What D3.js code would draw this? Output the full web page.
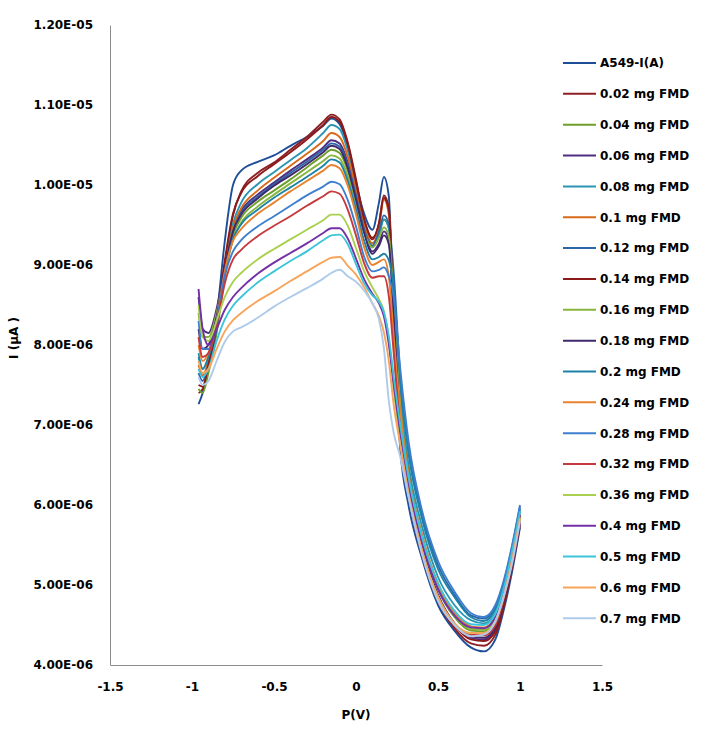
<!DOCTYPE html>
<html>
<head>
<meta charset="utf-8">
<script src="https://cdn.jsdelivr.net/npm/d3@7"></script>
<style>
  body { margin: 0; background: #fff; }
  svg { display: block; }
  text { font-family: "DejaVu Sans", sans-serif; font-weight: bold; font-size: 12px; fill: #000; }
</style>
</head>
<body>
<svg id="chart" width="704" height="733"></svg>
<script>
// potential sweep (V), shared by all series
const voltage = [-0.96, -0.935, -0.9, -0.85, -0.8, -0.75, -0.7, -0.6, -0.5, -0.4, -0.3, -0.2, -0.15, -0.1, -0.05, 0,
  0.05, 0.1, 0.14, 0.17, 0.2, 0.23, 0.27, 0.32, 0.4, 0.5, 0.6, 0.7, 0.78, 0.85, 0.9, 0.95, 1.0];

// current, in units of 1E-06 A
const a549 = [7.26, 7.40, 7.72, 8.34, 9.30, 10.00, 10.18, 10.29, 10.37, 10.49, 10.60, 10.74, 10.83, 10.76, 10.48, 10.02, 9.64, 9.44, 9.78, 10.10, 9.86, 8.20, 6.70, 6.00, 5.35, 4.75, 4.43, 4.22, 4.17, 4.32, 4.68, 5.15, 5.72];
const fmd002 = [7.40, 7.45, 7.70, 8.20, 9.00, 9.62, 9.92, 10.15, 10.28, 10.44, 10.60, 10.79, 10.88, 10.82, 10.53, 10.07, 9.57, 9.32, 9.52, 9.87, 9.72, 8.30, 6.90, 6.15, 5.40, 4.80, 4.46, 4.27, 4.24, 4.38, 4.72, 5.20, 5.75];
const fmd004 = [7.45, 7.40, 7.65, 8.15, 8.85, 9.37, 9.59, 9.79, 9.93, 10.07, 10.22, 10.37, 10.44, 10.40, 10.18, 9.82, 9.44, 9.27, 9.40, 9.57, 9.46, 8.50, 7.15, 6.30, 5.55, 4.95, 4.60, 4.43, 4.42, 4.55, 4.86, 5.30, 5.82];
const fmd006 = [8.60, 8.20, 8.15, 8.45, 9.00, 9.47, 9.68, 9.88, 10.03, 10.18, 10.32, 10.47, 10.56, 10.52, 10.28, 9.87, 9.42, 9.17, 9.27, 9.42, 9.31, 8.45, 7.10, 6.25, 5.50, 4.88, 4.52, 4.34, 4.32, 4.45, 4.78, 5.25, 5.78];
const fmd008 = [7.90, 7.70, 7.85, 8.30, 9.00, 9.52, 9.78, 10.01, 10.16, 10.31, 10.46, 10.65, 10.75, 10.70, 10.43, 10.00, 9.47, 9.22, 9.37, 9.57, 9.46, 8.70, 7.40, 6.50, 5.75, 5.10, 4.75, 4.56, 4.52, 4.65, 4.95, 5.40, 5.92];
const fmd01 = [7.75, 7.62, 7.80, 8.25, 8.95, 9.47, 9.71, 9.93, 10.09, 10.24, 10.39, 10.55, 10.65, 10.60, 10.35, 9.94, 9.50, 9.27, 9.47, 9.82, 9.63, 8.60, 7.25, 6.40, 5.65, 5.02, 4.66, 4.48, 4.45, 4.58, 4.90, 5.35, 5.88];
const fmd012 = [7.65, 7.55, 7.75, 8.20, 8.90, 9.42, 9.65, 9.85, 10.01, 10.15, 10.29, 10.44, 10.52, 10.48, 10.25, 9.87, 9.44, 9.24, 9.42, 9.62, 9.51, 8.90, 7.60, 6.70, 5.90, 5.25, 4.88, 4.62, 4.58, 4.72, 5.02, 5.46, 5.98];
const fmd014 = [7.50, 7.48, 7.75, 8.25, 9.05, 9.64, 9.90, 10.11, 10.26, 10.41, 10.57, 10.75, 10.85, 10.79, 10.51, 10.04, 9.57, 9.34, 9.52, 9.84, 9.69, 8.40, 7.00, 6.20, 5.45, 4.85, 4.50, 4.32, 4.30, 4.42, 4.76, 5.25, 5.80];
const fmd016 = [8.40, 8.10, 8.10, 8.40, 8.90, 9.32, 9.53, 9.73, 9.88, 10.02, 10.16, 10.30, 10.37, 10.33, 10.11, 9.77, 9.40, 9.22, 9.34, 9.47, 9.36, 8.55, 7.20, 6.35, 5.60, 4.98, 4.62, 4.45, 4.44, 4.57, 4.88, 5.32, 5.85];
const fmd018 = [8.20, 7.95, 8.00, 8.35, 8.95, 9.42, 9.63, 9.83, 9.99, 10.12, 10.26, 10.41, 10.49, 10.45, 10.21, 9.82, 9.40, 9.14, 9.24, 9.37, 9.26, 8.35, 7.05, 6.22, 5.48, 4.86, 4.52, 4.36, 4.34, 4.47, 4.80, 5.26, 5.80];
const fmd02 = [7.85, 7.70, 7.85, 8.25, 8.90, 9.32, 9.51, 9.69, 9.84, 9.97, 10.10, 10.24, 10.32, 10.28, 10.05, 9.70, 9.30, 9.07, 9.10, 9.14, 9.06, 8.70, 7.55, 6.65, 5.85, 5.20, 4.85, 4.60, 4.55, 4.70, 5.00, 5.42, 5.95];
const fmd024 = [8.00, 7.80, 7.90, 8.30, 8.92, 9.30, 9.45, 9.64, 9.78, 9.92, 10.05, 10.18, 10.25, 10.21, 9.99, 9.63, 9.22, 9.00, 9.04, 9.07, 8.86, 8.10, 7.15, 6.35, 5.62, 5.00, 4.66, 4.48, 4.47, 4.60, 4.90, 5.33, 5.86];
const fmd028 = [8.30, 7.95, 7.95, 8.30, 8.87, 9.17, 9.31, 9.48, 9.61, 9.74, 9.87, 9.98, 10.04, 10.01, 9.81, 9.48, 9.10, 8.92, 8.94, 8.97, 8.86, 8.60, 7.70, 6.80, 5.95, 5.30, 4.92, 4.65, 4.60, 4.75, 5.05, 5.48, 6.00];
const fmd032 = [8.10, 7.85, 7.90, 8.25, 8.77, 9.07, 9.19, 9.36, 9.49, 9.61, 9.74, 9.86, 9.92, 9.89, 9.69, 9.37, 9.02, 8.84, 8.86, 8.86, 8.61, 7.90, 6.95, 6.20, 5.45, 4.85, 4.50, 4.38, 4.37, 4.50, 4.82, 5.28, 5.80];
const fmd036 = [8.50, 8.10, 8.05, 8.30, 8.60, 8.79, 8.90, 9.07, 9.20, 9.32, 9.44, 9.56, 9.63, 9.63, 9.49, 9.21, 8.92, 8.72, 8.57, 8.42, 8.06, 7.45, 6.80, 6.15, 5.45, 4.85, 4.52, 4.40, 4.40, 4.54, 4.85, 5.30, 5.84];
const fmd04 = [8.70, 8.20, 8.00, 8.20, 8.44, 8.60, 8.71, 8.89, 9.03, 9.15, 9.27, 9.40, 9.46, 9.46, 9.33, 9.08, 8.82, 8.64, 8.52, 8.36, 8.01, 7.50, 6.90, 6.25, 5.55, 4.95, 4.62, 4.47, 4.46, 4.60, 4.90, 5.35, 5.88];
const fmd05 = [7.70, 7.60, 7.70, 8.05, 8.32, 8.49, 8.60, 8.78, 8.92, 9.05, 9.17, 9.31, 9.37, 9.38, 9.26, 9.01, 8.77, 8.62, 8.54, 8.41, 8.11, 7.60, 7.00, 6.35, 5.62, 5.02, 4.68, 4.51, 4.50, 4.64, 4.95, 5.40, 5.92];
const fmd06 = [7.80, 7.65, 7.70, 7.95, 8.17, 8.31, 8.40, 8.55, 8.67, 8.80, 8.92, 9.04, 9.09, 9.10, 8.99, 8.88, 8.72, 8.52, 8.36, 8.16, 7.80, 7.25, 6.75, 6.15, 5.45, 4.85, 4.52, 4.40, 4.40, 4.55, 4.86, 5.30, 5.84];
const fmd07 = [7.60, 7.50, 7.55, 7.80, 8.04, 8.17, 8.22, 8.34, 8.48, 8.60, 8.71, 8.83, 8.90, 8.94, 8.86, 8.79, 8.68, 8.52, 8.32, 7.96, 7.30, 6.90, 6.60, 6.10, 5.40, 4.80, 4.50, 4.36, 4.38, 4.55, 4.85, 5.25, 5.80];

const seriesNames = ["A549-I(A)", "0.02 mg FMD", "0.04 mg FMD", "0.06 mg FMD", "0.08 mg FMD", "0.1 mg FMD",
  "0.12 mg FMD", "0.14 mg FMD", "0.16 mg FMD", "0.18 mg FMD", "0.2 mg FMD", "0.24 mg FMD", "0.28 mg FMD",
  "0.32 mg FMD", "0.36 mg FMD", "0.4 mg FMD", "0.5 mg FMD", "0.6 mg FMD", "0.7 mg FMD"];
const seriesValues = [a549, fmd002, fmd004, fmd006, fmd008, fmd01, fmd012, fmd014, fmd016, fmd018, fmd02,
  fmd024, fmd028, fmd032, fmd036, fmd04, fmd05, fmd06, fmd07];
const seriesColors = ["#1f4e99", "#8e1f24", "#6e9f2b", "#4f2e80", "#2a95b3", "#d86a1a", "#2d66a8", "#8b1a1a",
  "#88b53d", "#40296b", "#1c82a6", "#e8822e", "#3e7ecf", "#c53a3c", "#a9d04e", "#7431a6", "#3cc4da",
  "#f6a55a", "#aecbeb"];

const xTicks = [-1.5, -1, -0.5, 0, 0.5, 1, 1.5];
const yTicks = [4, 5, 6, 7, 8, 9, 10, 11, 12];

const svg = d3.select("#chart");
const margin = {top: 25, left: 110},
    plotW = 492,
    plotH = 640;

const x = d3.scaleLinear().domain([-1.5, 1.5]).range([margin.left, margin.left + plotW]);
const y = d3.scaleLinear().domain([4, 12]).range([margin.top + plotH, margin.top]);

// 1.20E-05 style labels
function sci(v) {
  const parts = (v * 1e-6).toExponential(2).split("e");
  const e = +parts[1];
  return parts[0] + "E" + (e < 0 ? "-" : "+") + String(Math.abs(e)).padStart(2, "0");
}

const xAxis = svg.append("g")
    .attr("transform", "translate(0," + (margin.top + plotH) + ")")
    .call(d3.axisBottom(x).tickValues(xTicks).tickSize(0).tickPadding(17).tickFormat(d3.format("")));
const yAxis = svg.append("g")
    .attr("transform", "translate(" + margin.left + ",0)")
    .call(d3.axisLeft(y).tickValues(yTicks).tickSize(0).tickPadding(17).tickFormat(sci));
svg.selectAll(".domain").attr("stroke", "#8c8c8c").attr("stroke-width", 1);
svg.selectAll(".tick text").attr("font-family", null).attr("font-size", null);
xAxis.selectAll(".tick text").text(d => d3.format("")(d).replace("\u2212", "-"));

svg.append("text")
    .attr("x", x(0)).attr("y", 719)
    .attr("text-anchor", "middle")
    .text("P(V)");
svg.append("text")
    .attr("transform", "translate(18,338) rotate(-90)")
    .attr("text-anchor", "middle")
    .text("I (\u03bcA )");

const line = d3.line()
    .x((d, i) => x(voltage[i]))
    .y(d => y(d))
    .curve(d3.curveMonotoneX);

svg.append("g").selectAll("path")
    .data(seriesValues)
    .enter()
    .append("path")
    .attr("d", line)
    .attr("fill", "none")
    .attr("stroke", (d, i) => seriesColors[i])
    .attr("stroke-width", 1.9)
    .attr("stroke-linejoin", "round");

// legend
const legend = svg.append("g").attr("transform", "translate(563,63)");
const rows = legend.selectAll("g")
    .data(seriesNames)
    .enter()
    .append("g")
    .attr("transform", (d, i) => "translate(0," + (i * 30.85) + ")");
rows.append("line")
    .attr("x1", 0).attr("x2", 33).attr("y1", 0).attr("y2", 0)
    .attr("stroke", (d, i) => seriesColors[i])
    .attr("stroke-width", 2);
rows.append("text")
    .attr("x", 37).attr("y", 0).attr("dy", "0.36em")
    .text(d => d);
</script>
</body>
</html>
